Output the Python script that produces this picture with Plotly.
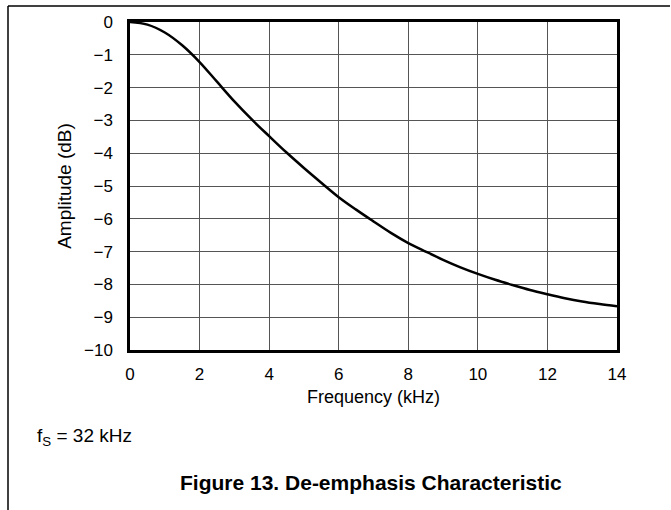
import plotly.graph_objects as go

freq_khz = [0, 0.5, 1, 1.5, 2, 2.5, 3, 3.5, 4, 4.5, 5, 5.5, 6, 6.5, 7, 7.5, 8,
            8.5, 9, 9.5, 10, 10.5, 11, 11.5, 12, 12.5, 13, 13.5, 14]
amp_db = [0, -0.08, -0.32, -0.71, -1.22, -1.82, -2.42, -2.97, -3.48, -3.98, -4.45,
          -4.9, -5.34, -5.72, -6.08, -6.43, -6.74, -7.0, -7.25, -7.48, -7.68,
          -7.86, -8.02, -8.17, -8.3, -8.42, -8.52, -8.6, -8.67]
x_ticks = [0, 2, 4, 6, 8, 10, 12, 14]
y_ticks = list(range(0, -11, -1))
y_labels = ["0"] + ["\u2212%d" % (-v) for v in y_ticks[1:]]

FONT = "Liberation Sans, Arial, sans-serif"

fig = go.Figure()
fig.add_trace(go.Scatter(x=freq_khz, y=amp_db, mode="lines",
                         line=dict(color="black", width=2.5, shape="spline"),
                         showlegend=False, hoverinfo="skip"))

W, H = 671, 510
L, R, T, B = 130, 617, 22, 350
pw, ph = R - L, B - T
def px(x):
    return (x - L) / pw
def py(y):
    return (B - y) / ph

fig.update_layout(
    width=W, height=H,
    margin=dict(l=L, r=W - R, t=T, b=H - B),
    paper_bgcolor="white", plot_bgcolor="white",
    font=dict(family=FONT, size=17, color="black"),
    xaxis=dict(range=[0, 14], tickvals=x_ticks, ticktext=[str(v) for v in x_ticks],
               showgrid=True, gridcolor="#555555", gridwidth=1,
               showline=True, linecolor="black", linewidth=2.5, mirror=True,
               ticks="", ticklabelstandoff=7, zeroline=False, tickfont=dict(size=17),
               title=dict(text="Frequency (kHz)", standoff=8, font=dict(size=18))),
    yaxis=dict(range=[-10, 0], tickvals=y_ticks, ticktext=y_labels,
               showgrid=True, gridcolor="#555555", gridwidth=1,
               showline=True, linecolor="black", linewidth=2.5, mirror=True,
               ticks="", ticklabelstandoff=11, zeroline=False, tickfont=dict(size=17),
               title=dict(text="Amplitude (dB)", standoff=8, font=dict(size=19))),
    shapes=[
        dict(type="line", xref="paper", yref="paper", x0=px(8), x1=px(670), y0=py(6), y1=py(6),
             line=dict(color="black", width=1.5)),
        dict(type="line", xref="paper", yref="paper", x0=px(8), x1=px(8), y0=py(6), y1=py(512),
             line=dict(color="black", width=1.5)),
    ],
    annotations=[
        dict(text="f<sub>S</sub> = 32 kHz", xref="paper", yref="paper",
             x=px(35), y=py(437), xanchor="left", yanchor="middle", showarrow=False,
             font=dict(size=19)),
        dict(text="<b>Figure 13. De-emphasis Characteristic</b>", xref="paper", yref="paper",
             x=px(371), y=py(482), xanchor="center", yanchor="middle", showarrow=False,
             font=dict(size=21)),
    ],
)

fig.write_html("out.html")
